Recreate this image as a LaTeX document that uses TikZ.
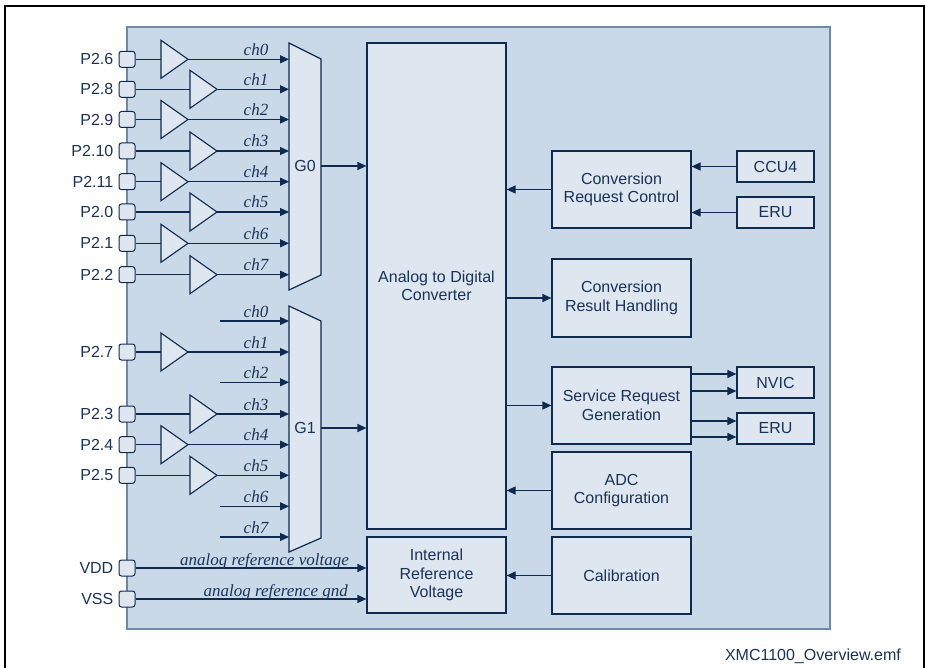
\documentclass[tikz,border=0pt]{standalone}
\usepackage{fontspec}
\setmainfont{Liberation Sans}
\newfontfamily\serifit{Liberation Serif}
\usetikzlibrary{arrows.meta,calc}
\definecolor{navy}{HTML}{0E2A4F}
\definecolor{txt}{HTML}{1A3358}
\definecolor{boxfill}{HTML}{DEE6EF}
\definecolor{panel}{HTML}{C9D9E7}
\definecolor{panelborder}{HTML}{6E88A5}
\tikzset{
  box/.style={draw=navy, fill=boxfill, line width=1.2pt, text=txt, align=center, inner sep=0pt,
    minimum width=139pt, minimum height=77pt, font=\fontsize{16}{18.5}\selectfont},
  sbox/.style={box, minimum width=77pt, minimum height=31pt},
  pinbox/.style={draw=navy, fill=boxfill, rounded corners=2.5pt, minimum size=16pt, inner sep=0pt, line width=1pt},
  conn/.style={navy, line width=1.2pt, -{Triangle[length=9pt,width=8pt]}},
  wire/.style={navy, line width=1.2pt},
  buf/.style={draw=navy, fill=boxfill, line width=1.1pt, line join=miter},
  chl/.style={font=\serifit\itshape\fontsize{17}{17}\selectfont, text=txt, anchor=base, inner sep=0pt},
  pinl/.style={font=\fontsize{16}{16}\selectfont, text=txt, anchor=east, inner sep=0pt},
}
\begin{document}
\begin{tikzpicture}[x=1pt,y=-1pt]
\useasboundingbox (0,0) rectangle (926,668);
% outer frame
\draw[black, line width=2.2pt] (5,668) -- (5,6) -- (924,6) -- (924,668);
% panel
\draw[fill=panel, draw=panelborder, line width=1.5pt] (127,27) rectangle (830,629);

% multiplexers
\draw[buf, line width=1.2pt] (289,43) -- (321,59) -- (321,275) -- (289,290) -- cycle;
\draw[buf, line width=1.2pt] (289,306) -- (321,321) -- (321,538) -- (289,552) -- cycle;
\node[font=\fontsize{16}{16}\selectfont, text=txt] (g0) at (305,166) {G0};
\node[font=\fontsize{16}{16}\selectfont, text=txt] (g1) at (305,428) {G1};
\coordinate (g0in) at (289,0);
\coordinate (g1in) at (289,0);
\coordinate (g0out) at (321,166);
\coordinate (g1out) at (321,428);

% group 0 inputs
\foreach \i/\lab/\y/\xo in {0/P2.6/59.3/161, 1/P2.8/89.3/190, 2/P2.9/119.5/161, 3/P2.10/151/190,
                           4/P2.11/181.7/161, 5/P2.0/212/190, 6/P2.1/243.3/161, 7/P2.2/274.7/190}{
  \node[pinbox] (pa\i) at (127,\y) {};
  \node[pinl] (pal\i) at ([xshift=-5pt]pa\i.west) {\lab};
  \coordinate (bain\i) at (\xo,\y);
  \coordinate (baout\i) at (\xo+27,\y);
  \draw[buf] (\xo,\y-19) -- (\xo,\y+19) -- (\xo+27,\y) -- cycle;
  \draw[wire] (pa\i.east) -- (bain\i);
  \draw[conn] (baout\i) -- (g0in |- baout\i);
  \node[chl] (cha\i) at (256,\y-4) {ch\i};
}

% group 1 inputs with pins
\foreach \i/\lab/\y/\xo in {1/P2.7/352/161, 3/P2.3/414/190, 4/P2.4/444.7/161, 5/P2.5/475.3/190}{
  \node[pinbox] (pb\i) at (127,\y) {};
  \node[pinl] (pbl\i) at ([xshift=-5pt]pb\i.west) {\lab};
  \coordinate (bbin\i) at (\xo,\y);
  \coordinate (bbout\i) at (\xo+27,\y);
  \draw[buf] (\xo,\y-19) -- (\xo,\y+19) -- (\xo+27,\y) -- cycle;
  \draw[wire] (pb\i.east) -- (bbin\i);
  \draw[conn] (bbout\i) -- (g1in |- bbout\i);
  \node[chl] (chb\i) at (256,\y-4) {ch\i};
}
% group 1 inputs without pins
\foreach \i/\y in {0/321, 2/382.3, 6/506.3, 7/537}{
  \coordinate (fb\i) at (220,\y);
  \draw[conn] (fb\i) -- (g1in |- fb\i);
  \node[chl] (chb\i) at (256,\y-4) {ch\i};
}

% main blocks
\node[box, minimum height=486pt] (adc) at (436.5,286) {Analog to Digital\\Converter};
\node[box, minimum height=76pt] (irv) at (436.5,575) {Internal\\Reference\\Voltage};
\node[box] (crc) at (621.5,189.5) {Conversion\\Request Control};
\node[box, minimum height=78pt] (crh) at (621.5,298) {Conversion\\Result Handling};
\node[box] (srg) at (621.5,405.5) {Service Request\\Generation};
\node[box] (adcc) at (621.5,490.5) {ADC\\Configuration};
\node[box] (cal) at (621.5,575.5) {Calibration};
\node[sbox] (ccu) at (775.5,166.5) {CCU4};
\node[sbox] (erua) at (775.5,212.5) {ERU};
\node[sbox] (nvic) at (775.5,382.5) {NVIC};
\node[sbox] (erub) at (775.5,428.5) {ERU};

% reference pins
\node[pinbox] (vdd) at (127,568) {};
\node[pinl] (vddl) at ([xshift=-5pt]vdd.west) {VDD};
\node[pinbox] (vss) at (127,599) {};
\node[pinl] (vssl) at ([xshift=-5pt]vss.west) {VSS};
\draw[conn] (vdd.east) -- (irv.west |- vdd.east);
\draw[conn] (vss.east) -- (irv.west |- vss.east);
\node[chl, anchor=base east] (vddt) at (349,565) {analog reference voltage};
\node[chl, anchor=base east] (vsst) at (348,596) {analog reference gnd};

% connectors
\draw[conn] (g0out) -- (adc.west |- g0out);
\draw[conn] (g1out) -- (adc.west |- g1out);
\draw[conn] (ccu.west) -- (crc.east |- ccu.west);
\draw[conn] (erua.west) -- (crc.east |- erua.west);
\draw[conn] (crc.west) -- (adc.east |- crc.west);
\draw[conn] (adc.east |- crh.west) -- (crh.west);
\draw[conn] (adc.east |- srg.west) -- (srg.west);
\draw[conn] (srg.east |- 0,374) -- (nvic.west |- 0,374);
\draw[conn] (srg.east |- 0,391) -- (nvic.west |- 0,391);
\draw[conn] (srg.east |- 0,421) -- (erub.west |- 0,421);
\draw[conn] (srg.east |- 0,437) -- (erub.west |- 0,437);
\draw[conn] (adcc.west) -- (adc.east |- adcc.west);
\draw[conn] (cal.west) -- (irv.east |- cal.west);

\node[font=\fontsize{16}{16}\selectfont, text=txt, anchor=east, inner sep=0pt] (fname) at (901,656) {XMC1100\_Overview.emf};
\end{tikzpicture}
\end{document}
